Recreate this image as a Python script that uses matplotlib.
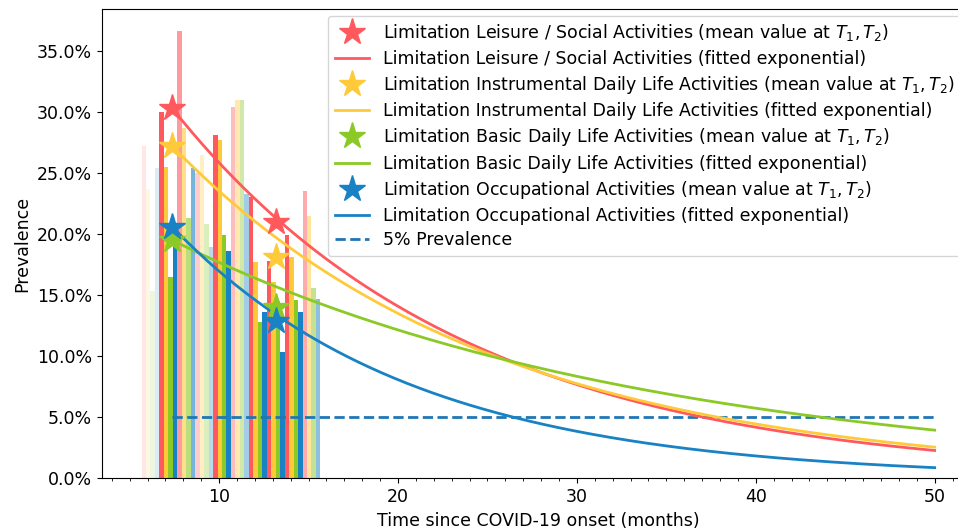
import numpy as np
import matplotlib.pyplot as plt
from matplotlib.ticker import MultipleLocator, PercentFormatter

plt.rcParams['font.size'] = 12.5

# categories and palette
categories = ["Leisure / Social Activities", "Instrumental Daily Life Activities",
              "Basic Daily Life Activities", "Occupational Activities"]
colors = ["#ff595e", "#ffca3a", "#8ac926", "#1982c4"]

# individual studies (months since onset) and their weight (shown as opacity)
study_months = [6, 7, 8, 9, 10, 11, 12, 13, 14, 15]
study_alpha = [0.15, 1.0, 0.6, 0.3, 1.0, 0.4, 1.0, 1.0, 1.0, 0.5]

# prevalence per study (%)
leisure = [27.2, 30.0, 36.6, 25.0, 28.1, 30.4, 23.0, 17.8, 19.9, 23.5]
instrumental = [23.7, 25.5, 28.7, 26.5, 27.7, 31.0, 17.7, 16.1, 18.1, 21.5]
basic = [15.3, 16.5, 21.3, 20.8, 19.9, 31.0, 12.8, 14.5, 14.6, 15.6]
occupational = [25.4, 19.0, 25.4, 18.9, 18.6, 23.3, 13.6, 10.3, 13.6, 14.7]

# mean values at T1, T2
t_mean = [7.37, 13.17]
mean_leisure = [30.3, 21.0]
mean_instrumental = [27.2, 18.1]
mean_basic = [19.5, 14.0]
mean_occupational = [20.6, 12.9]

# fitted exponentials: value at T1 and decay rate (1/month)
fit_amplitude = [30.3, 27.2, 19.5, 20.6]
fit_rate = [0.0607, 0.0555, 0.0375, 0.0742]
t_end = 50
threshold = 5.0

bars = [leisure, instrumental, basic, occupational]
means = [mean_leisure, mean_instrumental, mean_basic, mean_occupational]

fig = plt.figure(figsize=(9.58, 5.30), dpi=100)
ax = fig.add_axes([102 / 958, 51.7 / 530, 872 / 958, 469.7 / 530])

width = 0.25
for j, vals in enumerate(bars):
    for i, m in enumerate(study_months):
        ax.bar(m - 0.34 + j * width, vals[i], width=width, align='edge',
               color=colors[j], alpha=study_alpha[i], zorder=1)

t = np.linspace(t_mean[0], t_end, 300)
for j, name in enumerate(categories):
    ax.plot(t_mean, means[j], '*', color=colors[j], markersize=20, zorder=4,
            label=f"Limitation {name} (mean value at $T_1, T_2$)")
    ax.plot(t, fit_amplitude[j] * np.exp(-fit_rate[j] * (t - t_mean[0])),
            color=colors[j], lw=2, zorder=3,
            label=f"Limitation {name} (fitted exponential)")

ax.plot([t_mean[0], t_end], [threshold, threshold], '--', color='#1f77b4',
        lw=2, zorder=2, label="5% Prevalence")

ax.set_xlim(3.45, 52.2)
ax.set_ylim(0, 38.45)
ax.xaxis.set_major_locator(MultipleLocator(10))
ax.xaxis.set_minor_locator(MultipleLocator(1))
ax.yaxis.set_major_locator(MultipleLocator(5))
ax.yaxis.set_major_formatter(PercentFormatter(100, decimals=1))
ax.set_xlabel("Time since COVID-19 onset (months)")
ax.set_ylabel("Prevalence")
ax.legend(loc='upper right', bbox_to_anchor=(0.9945, 1.0),
          labelspacing=0.36, borderaxespad=0.4)

fig.savefig("out.png", dpi=100)
